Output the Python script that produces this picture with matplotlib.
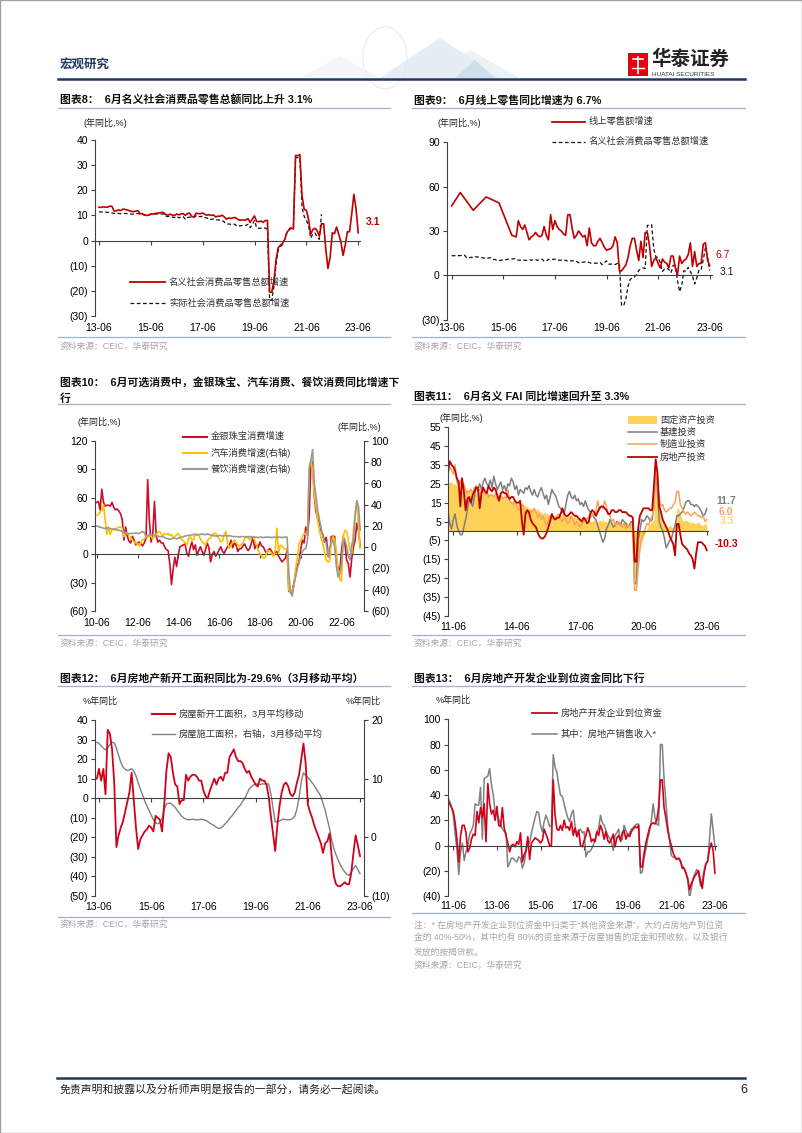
import numpy as np
import matplotlib
matplotlib.use("Agg")
import matplotlib.pyplot as plt
import matplotlib.transforms as mtrans
from matplotlib.lines import Line2D
from matplotlib.patches import Rectangle, Polygon, Circle
from matplotlib.ticker import FuncFormatter

plt.rcParams["font.family"] = ["Liberation Sans", "Noto Sans CJK SC", "DejaVu Sans"]
plt.rcParams["axes.unicode_minus"] = False

# ---------------- data (month index 0 = first x label) ----------------
# chart 8 / 9: retail sales, from 2013-06
retail_nominal = [13.3, 13.2, 13.4, 13.3, 13.3, 13.7, 13.6,
                  11.8, 11.8, 12.2, 11.9, 12.5, 12.4, 12.2, 11.9, 11.6, 11.5, 11.7, 11.9,
                  10.7, 10.7, 10.2, 10.0, 10.1, 10.6, 10.5, 10.8, 10.9, 11.0, 11.2, 11.1,
                  10.2, 10.2, 10.5, 10.1, 10.0, 10.6, 10.2, 10.6, 10.7, 10.0, 10.8, 10.9,
                  9.5, 9.5, 10.9, 10.7, 10.7, 11.0, 10.4, 10.1, 10.3, 10.0, 10.2, 9.4,
                  9.7, 9.7, 10.1, 9.4, 8.5, 9.0, 8.8, 9.0, 9.2, 8.6, 8.1, 8.2,
                  8.2, 8.2, 8.7, 7.2, 8.6, 9.8, 7.6, 7.5, 7.8, 7.2, 8.0, 8.0,
                  -20.5, -20.5, -15.8, -7.5, -2.8, -1.8, -1.1, 0.5, 3.3, 4.3, 5.0, 4.6,
                  33.8, 33.8, 34.2, 17.7, 12.4, 12.1, 8.5, 2.5, 4.4, 4.9, 3.9, 1.7,
                  6.7, 6.7, -3.5, -11.1, -6.7, 3.1, 2.7, 5.4, 2.5, -0.5, -5.9, -1.8,
                  3.5, 3.5, 10.6, 18.4, 12.7, 3.1]
retail_real = [11.4, 11.4, 11.3, 11.3, 11.2, 11.2, 11.0,
               10.8, 10.8, 10.8, 10.7, 10.7, 10.8, 10.7, 10.6, 10.5, 10.5, 10.6, 10.8,
               10.5, 10.5, 10.2, 10.0, 10.1, 10.5, 10.4, 10.5, 10.6, 10.5, 10.6, 10.5,
               9.6, 9.6, 9.8, 9.3, 9.2, 9.7, 9.0, 9.4, 9.5, 8.4, 9.2, 9.3,
               9.2, 9.2, 9.9, 9.6, 9.5, 9.8, 9.2, 8.9, 8.9, 8.4, 8.6, 8.2,
               8.2, 8.2, 8.0, 7.4, 6.6, 6.6, 6.5, 6.7, 6.4, 5.6, 5.8, 6.0,
               6.0, 6.0, 6.5, 5.1, 6.4, 8.0, 5.0, 4.9, 4.9, 5.0, 5.0, 4.5,
               -23.7, -23.7, -18.1, -9.1, -3.7, -2.4, -1.6, 0.5, 3.1, 4.5, 5.5, 5.5,
               33.0, 33.0, 33.0, 13.0, 9.6, 8.1, 6.0, 1.0, 2.6, 3.0, 1.3, 0.5,
               10.5]
online_month = [0, 4, 10, 16, 22] + list(range(28, 121))
online_retail = [47, 56, 44, 53, 49,
                 27, 26.5, 26, 37, 33, 31, 34, 29, 24, 26,
                 27, 29, 27, 26, 27, 33, 27, 24, 41, 31,
                 37, 33, 31, 30, 28, 27, 41, 41, 32, 25,
                 27, 30, 28, 26, 27, 20, 32, 22, 20, 20,
                 23, 25, 22, 19, 17, 17.5, 18, 20, 26, 22,
                 3, 3, 5, 7, 12, 20, 25, 25, 17, 10,
                 23, 12, 29, 29, 20, 6, 10, 12, 8, 5,
                 11, 9, 8, 5, 13, 13, 5, 0, 13, 8,
                 10, 11, 14, 22, 6, 16, 6, 8, 8, 21,
                 22, 10, 6.7]

# chart 10: from 2010-06
jewelry = [55, 56, 47, 69, 55, 51, 52, 52, 51, 55,
           50, 47, 48, 46, 43, 37, 15, 29, 19, 14,
           12, 19, 15, 10, 12, 13, 11, 9, 12, 17,
           79, 35, 13, 22, 56, 19, 13, 15, 12, 12,
           8, 5, 4, -10, -32, -15, -3, -13, 0, 8,
           9, 10, 11, 1, -2, 7, 13, 5, 10, -1,
           4, 8, 3, -1, 5, 12, 7, -8, 0, 3,
           -2, 1, 5, 8, 3, 1, 5, 8, 9, 15,
           7, 12, 10, 3, 6, 6, 9, 11, 7, 4,
           6, 12, 18, 6, 10, 7, 13, 9, 8, 4,
           1, 5, 6, 3, -1, 2, 3, -2, -5, -8,
           -6, -4, 5, -39, -40, -41, -30, -22, -12, -8,
           5, 15, 12, 29, 20, 40, 98, 98, 61, 45,
           38, 33, 25, 21, 13, 18, 3, -4, 19, 19,
           19, -8, -14, -17, 3, 19, 12, -6, -10, -24,
           -5, 8, 15, 33, 25, 8]
auto = [30, 31, 33, 35, 40, 25, 12, 19, 12, 16,
        17, 16, 18, 19, 19, 18, 10, 14, 13, 11,
        9, 7, 5, 4, 3, 1, 5, 7, 8, 10,
        9, 11, 10, 8, 10, 12, 14, 15, 12, 11,
        13, 12, 13, 11, 12, 9, 10, 12, 13, 10,
        7, 6, 4, 2, 8, 10, 7, 7, 13, 12,
        11, 8, 5, 4, 2, 6, 8, 9, 12, 13,
        13, 11, 8, 5, 6, 12, 15, 4, -1, 2,
        5, 7, 5, 2, 1, 3, 4, 8, 10, 9,
        7, 10, 10, 6, 2, -3, -6, -8, -10, -10,
        -5, -3, -4, -6, -9, -3, 18, -6, 2, 1,
        -1, -2, -1, -40, -43, -40, -37, -20, -10, 4,
        6, 10, 13, 12, 16, 76, 81, 73, 50, 38,
        25, 16, 8, 4, -5, -12, -14, -13, 5, 10,
        7, -5, -21, -30, -32, 10, 16, 15, 7, -3,
        -6, 16, 30, 43, 20, -1]
catering = [20, 19.5, 19, 18.5, 18, 17.5, 18.5, 18, 17.5, 17,
            17.5, 17, 16.5, 16, 15.5, 15, 14, 13.5, 13, 13,
            13, 13, 13, 13.5, 13, 13, 14, 14.5, 14, 10,
            11, 12, 11.5, 11, 11.5, 11, 10.5, 10, 10, 10,
            9, 8.5, 8, 7.5, 8, 8.5, 8.5, 8, 8.5, 9,
            9.5, 10, 10.5, 11, 11, 11.5, 11.5, 12, 12, 11.5,
            12, 12, 12.5, 12, 12, 12.5, 12, 11.5, 11, 11,
            10.5, 10.5, 11, 11, 10.5, 11, 11, 10.5, 11, 10.5,
            10, 10, 10, 10, 9.5, 10, 10, 10, 9.5, 10,
            10, 9.5, 9.5, 9.5, 9.5, 9, 9.5, 9.5, 9, 9.5,
            9.5, 9.5, 9.5, 9, 9.5, 9.5, 9, 9.5, 9.5, 9,
            9.5, 9.5, 9.5, -24, -43, -46, -35, -28, -20, -15,
            -8, -4, -2, -1, 7, 73, 82, 92, 60, 48,
            35, 26, 18, 10, 6, 4, -9, 0, 4, 7,
            0, -18, -28, -25, -15, 5, 7, 1, -8, -12,
            2, 7, 30, 44, 38, 16]

# chart 11: from 2011-03 (three months before the 11-06 label)
fai_total = [25, 26, 26, 25, 25, 24, 24, 24, 23, 23,
             22, 22, 22, 21, 21, 21, 20, 21, 21, 21,
             20, 21, 20, 20, 20, 19, 19, 19, 18, 18,
             18, 18, 17, 17, 17, 16, 16, 16, 16, 15,
             15, 15, 15, 14, 13, 13, 12, 12, 11, 12,
             11, 12, 10, 10, 9, 10, 9, 9, 8, 9,
             8, 8, 9, 8, 8, 9, 8, 8, 9, 8,
             8, 7, 8, 7, 7, 6, 7, 6, 6, 5,
             6, 5, 5, 6, 5, 5, 6, 5, 6, 5,
             5, 4, 5, 5, 4, 5, 4, 5, 5, 4,
             4, 5, 4, 4, 5, 4,
             -24.5, -24.5,
             -16, -10, -6, -3, -1, 1, 3, 4, 5, 6,
             35, 25,
             12, 8, 5, 4, 3, 2, 3, 2, 1, 2,
             12, 12,
             9, 6, 5, 6, 5, 5, 4, 5, 4, 4, 5, 4, 3, 3, 4, 3.3]
fai_infra = [10, 4, 1, 6, 9, 3, 0, -2, -2, 2,
             6, 11, 17, 15, 13, 18, 23, 22, 25, 22,
             26, 28, 25, 24, 27, 23, 29, 25, 22, 24,
             26, 22, 24, 21, 25, 24, 28, 26, 22, 24,
             19, 22, 21, 20, 23, 22, 24, 21, 19, 22,
             19, 18, 21, 23, 20, 17, 19, 14, 18, 22,
             20, 19, 16, 13, 12, 10, 9, 14, 19, 21,
             18, 17, 19, 16, 17, 14, 15, 13, 16, 13,
             11, 10, 9, 7, 6, 3, 0, -3, -6, -4,
             1, 3, 6, 4, 2, 3, 5, 4, 3, 6,
             5, 4, 2, 3, 5, 4,
             -28, -28,
             -5, 0, 6, 5, 6, 8, 7, 5, 6, 14,
             34, 22,
             5, 2, 0, -4, -9, -7, -5, -4, 0, 3,
             8, 8,
             9, 10, 12, 15, 16, 16, 14, 14, 13, 14, 13, 12, 10, 8, 9, 11.7]
fai_mfg = [30, 34, 32, 30, 35, 26, 24, 27, 23, 25,
           22, 20, 21, 22, 20, 23, 24, 21, 22, 20,
           21, 19, 21, 18, 19, 19, 18, 20, 17, 18,
           19, 17, 18, 17, 22, 16, 15, 14, 16, 13,
           11, 12, 14, 13, 9, 10, 8, 11, 10, 12,
           10, 7, 9, 6, 8, 5, 3, 5, 8, 7,
           6, 7, 8, 9, 6, 5, 7, 6, 4, 5,
           8, 6, 3, 5, 4, 2, 3, 5, 7, 6,
           8, 7, 9, 8, 10, 16, 11, 13, 12, 16,
           13, 9, 8, 5, 6, 3, 4, 5, 3, 2,
           4, 1, 3, 2, 4, 3,
           -31.5, -31.5,
           -21, -10, -4, -2, 1, 4, 3, 6, 8, 12,
           37, 25,
           17, 13, 14, 11, 10, 11, 12, 12, 14, 15,
           21, 21,
           14, 12, 10, 9, 10, 9, 8, 9, 10, 9, 8, 8, 7, 8, 5, 6]
fai_property = [32, 37, 35, 34, 32, 28, 26, 13, 28, 21,
                11, 17, 18, 15, 19, 21, 23, 23, 12, 20,
                23, 21, 20, 24, 22, 21, 23, 22, 19, 16,
                20, 21, 20, 20, 18, 17, 18, 18, 16, 15,
                15, 16, 5, -2, 9, 11, 10, 6, 4, 3,
                2, -1, -3, -4, -4, -3, -1, 2, 5, 9,
                7, 6, 7, 7, 9, 12, 9, 8, 8, 9,
                10, 9, 8, 8, 7, 6, 5, 7, 6, 4,
                5, 10, 11, 10, 8, 10, 12, 13, 13, 12,
                11, 9, 9, 11, 11, 10, 10, 11, 11, 10,
                10, 10, 9, 8, 8, 7,
                -16.3, -16.3,
                1, 8, 10, 12, 12, 12, 12, 11, 11, 24,
                38, 31,
                13, 10, 6, 4, 2, 0, -3, -5, -7, -13,
                3.7, 3.7,
                -2, -7, -8, -9, -10, -12, -13, -15, -20, -12, -6, -6, -6, -7, -8, -10.3]

# chart 12: from 2013-05 (3-month moving averages)
new_starts = [10, 15, 9, 15, 2, 35, 33, 25, 8, -25,
              -19, -15, -12, -7, -2, 3, 13, -1, -15, -26,
              -21, -19, -17, -16, -14, -15, -17, -9, -10, -11,
              -17, -3, 14, 23, 21, 13, 7, 6, -3, -1,
              -1, 12, 9, 11, 12, 12, 11, 9, 9, 4,
              1, 0, 4, 7, 10, 7, 10, 11, 9, 13,
              13, 21, 23, 25, 21, 19, 19, 18, 15, 13,
              14, 11, 9, 7, 6, 10, 9, 9, 7, 1,
              -9, -18, -27, -14, -4, 3, 7, 8, 6, 2,
              1, 3, 8, 12, 20, 28, 18, -3, -7, -10,
              -14, -17, -20, -23, -28, -23, -22, -18, -30, -40,
              -44, -45, -45, -44, -43, -44, -44, -38, -28, -19,
              -24, -29.6]
under_construction = [16.2, 16, 15.6, 15.2, 14.9, 15.3, 15.8, 16.2, 16.1, 15.2,
                      14, 12.8, 12, 11.6, 11.4, 11.5, 11.7, 11.3, 10.5, 9.3,
                      8.2, 7.3, 6.2, 5.4, 4.6, 3.8, 3.0, 2.5, 2.3, 2.5,
                      3.2, 4.8, 5.7, 5.8, 5.8, 5.5, 5.1, 4.6, 4.1, 3.6,
                      3.3, 3.1, 3.0, 3.0, 3.1, 3.0, 3.0, 3.0, 3.1, 3.0,
                      2.9, 2.7, 2.4, 2.2, 2.0, 1.7, 1.5, 1.6, 1.9, 2.3,
                      2.7, 3.2, 3.6, 4.1, 4.6, 5.1, 5.5, 6.1, 6.6, 7.4,
                      8.2, 8.6, 8.9, 9.1, 9.1, 9.0, 9.1, 9.1, 9.1, 9.1,
                      7.5, 5.0, 2.6, 2.7, 2.8, 3.0, 3.1, 3.0, 3.0, 3.0,
                      3.2, 3.6, 4.8, 6.8, 9.5, 11.0, 10.6, 10.2, 9.8, 9.3,
                      8.8, 8.2, 7.6, 7.0, 5.8, 4.6, 3.0, 1.5, -0.5, -1.9,
                      -3.0, -3.9, -4.7, -5.4, -5.9, -6.3, -6.5, -5.9, -5.3, -4.8,
                      -5.5, -6.2]

# chart 13: from 2011-03
dev_funds = [36, 33, 30, 27, 18, 5, -13, 8, 16, 16,
             10, -5, -2, 5, 9, 8, 27, 18, 30, 22,
             33, 3, 49, 33, 25, 28, 20, 31, 16, 15,
             30, 14, 8, 2, -5, 0, 1, -1, 3, 1,
             10, -13, -7, -4, 7, -11, 2, 4, 6, 5,
             4, 2, 4, 13, 9, 5, 0, 0, 52, 24,
             13, 12, 16, 12, 20, 14, 15, 12, 19, 8,
             14, 7, 12, 0, -1, 4, 8, 14, 10, 3,
             5, 3, 11, 8, 16, 12, 5, 11, 4, 2,
             5, 9, -1, 6, 8, 4, 10, 12, 5, 9,
             7, 11, 13, 15, 14, 16, -17, -17, -6, 2,
             8, 14, 17, 18, 17, 20, 30, 52, 52, 30,
             22, 12, 5, 0, -6, -9, -11, -10, -12, -18,
             -18, -22, -26, -35, -30, -27, -24, -22, -20, -28,
             -34, -22, -15, -12, -3, 2, -4, -22]
sales_proceeds = [38, 35, 31, 24, 9, -3, -23, -5, 2, -12,
                  -5, 0, 9, 12, 16, 33, 32, 32, 46, 5,
                  53, 54, 55, 61, 48, 40, 27, 24, 21, 17,
                  13, 11, 10, -17, -14, -10, -10, -12, -13, -9,
                  -10, -18, -14, -5, 3, 2, 10, 16, 22, 27,
                  26, 16, 11, 19, 24, 20, 15, 16, 72, 62,
                  58, 48, 40, 39, 33, 27, 22, 19, 25, 28,
                  15, 8, 12, 13, 10, 11, -9, -5, -5, -3,
                  0, 5, 10, 14, 24, 18, 16, 12, 8, 6,
                  3, -4, 8, 10, 13, 3, 5, 16, 12, 8,
                  10, 13, 14, 16, 17, 17, -22, -21, -10, -3,
                  5, 11, 20, 33, 22, 17, 16, 80, 80, 53,
                  35, 16, 5, -8, -9, -10, -11, -10, -13, -16,
                  -18, -21, -27, -42, -34, -26, -22, -19, -22, -32,
                  -28, -20, -14, -13, 5, 25, 12, -1]

labels_13_23 = ["13-06", "15-06", "17-06", "19-06", "21-06", "23-06"]
labels_10_22 = ["10-06", "12-06", "14-06", "16-06", "18-06", "20-06", "22-06"]
labels_11_23_3y = ["11-06", "14-06", "17-06", "20-06", "23-06"]
labels_11_23_2y = ["11-06", "13-06", "15-06", "17-06", "19-06", "21-06", "23-06"]

# ---------------- page ----------------
W, H = 802, 1133
fig = plt.figure(figsize=(W / 100, H / 100), dpi=100)
fig.patch.set_facecolor("white")

RED = "#C00000"
AX = "#404040"
NAVY = "#1F3864"
SEP = "#9DB3CB"
SRC = "#A6A6A6"


def fx(x):
    return x / W


def fy(y):
    return 1 - y / H


def ftext(x, y, s, **kw):
    kw.setdefault("va", "center")
    return fig.text(fx(x), fy(y), s, **kw)


def fline(x1, x2, y1, y2=None, **kw):
    if y2 is None:
        y2 = y1
    fig.add_artist(Line2D([fx(x1), fx(x2)], [fy(y1), fy(y2)], transform=fig.transFigure, **kw))


def paren(v, pos=None):
    return f"({abs(v):.0f})" if v < 0 else f"{v:.0f}"


def make_axes(l, t, r, b, m0px, pxm, ylim, yticks, xticks, xlabels, label_y):
    ax = fig.add_axes([fx(l), fy(b), (r - l) / W, (b - t) / H])
    ax.set_xlim((l - m0px) / pxm, (r - m0px) / pxm)
    ax.set_ylim(ylim)
    ax.set_yticks(yticks)
    ax.yaxis.set_major_formatter(FuncFormatter(paren))
    ax.spines["top"].set_visible(False)
    ax.spines["right"].set_visible(False)
    ax.spines["bottom"].set_position(("data", 0))
    for s in ("left", "bottom"):
        ax.spines[s].set_color(AX)
        ax.spines[s].set_linewidth(0.8)
    ax.set_xticks(xticks)
    ax.set_xticklabels([])
    ax.tick_params(axis="x", direction="out", length=3, color=AX, width=0.8)
    ax.tick_params(axis="y", direction="out", length=3, labelsize=7.5, pad=2, color=AX, width=0.8)
    ax.patch.set_alpha(0)
    tr = mtrans.blended_transform_factory(ax.transData, fig.transFigure)
    for x, lab in zip(xticks, xlabels):
        ax.text(x, fy(label_y), lab, transform=tr, ha="center", va="center", fontsize=7.5, clip_on=False)
    return ax


def make_right(ax, ylim, yticks):
    ax2 = ax.twinx()
    ax2.set_ylim(ylim)
    ax2.set_yticks(yticks)
    ax2.yaxis.set_major_formatter(FuncFormatter(paren))
    for s in ("left", "top", "bottom"):
        ax2.spines[s].set_visible(False)
    ax2.spines["right"].set_color(AX)
    ax2.spines["right"].set_linewidth(0.8)
    ax2.tick_params(axis="y", direction="out", length=3, labelsize=7.5, pad=2, color=AX, width=0.8)
    ax2.patch.set_alpha(0)
    return ax2


def months(vals, start):
    return np.arange(len(vals)) + start


def section(x1, x2, title_lines, title_y, top_line, bottom_line, src_y):
    for i, s in enumerate(title_lines):
        ftext(x1 + 2, title_y + i * 16.5, s, fontsize=7.8, fontweight="bold", color="#111111")
    fline(x1, x2, top_line, color=SEP, lw=0.9)
    fline(x1, x2, bottom_line, color=SEP, lw=0.9)
    ftext(x1 + 2, src_y, "资料来源：CEIC，华泰研究", fontsize=6.3, color=SRC)


def legend_line(x1, x2, y, text, color, lw=1.3, ls="-", fs=6.7, gap=4):
    fline(x1, x2, y, color=color, lw=lw, linestyle=ls)
    ftext(x2 + gap, y, text, fontsize=fs, color="#333333")


# header
fig.add_artist(Rectangle((0, 0), 1, 1, transform=fig.transFigure, fill=False, edgecolor="#A0A0A0", lw=1.0))
fig.add_artist(Circle((fx(385), fy(58)), 22 / W, transform=fig.transFigure, fill=False,
                      edgecolor="#E3E9F0", lw=0.7))
for pts, col in [([(300, 78), (340, 56), (380, 78)], "#EEF2F7"),
                 ([(380, 78), (440, 38), (500, 78)], "#DCE6F0"),
                 ([(430, 78), (470, 50), (520, 78)], "#E6EDF4"),
                 ([(455, 78), (475, 60), (495, 78)], "#C8D9EA")]:
    fig.add_artist(Polygon([(fx(a), fy(b)) for a, b in pts], closed=True, transform=fig.transFigure,
                           facecolor=col, edgecolor="none", alpha=0.7))
ftext(60, 65, "宏观研究", fontsize=9, fontweight="bold", color=NAVY)
fig.add_artist(Rectangle((fx(628), fy(76)), 20 / W, 23 / H, transform=fig.transFigure,
                         facecolor="#E60012", edgecolor="none"))
fline(633, 643, 59, color="white", lw=1.2)
fline(638, 638, 57, 73, color="white", lw=1.2)
fline(632, 644, 68, color="white", lw=1.0)
ftext(651, 59, "华泰证券", fontsize=14, fontweight="bold", color="#222222")
ftext(652, 74, "HUATAI SECURITIES", fontsize=4.6, color="#333333")
fline(58, 745, 78.5, color=NAVY, lw=1.8)

# footer
fline(57, 745, 1077.5, color=NAVY, lw=1.8)
ftext(60, 1090, "免责声明和披露以及分析师声明是报告的一部分，请务必一起阅读。", fontsize=7.8, color="#222222")
ftext(740, 1090, "6", fontsize=9, color="#222222")

# ---------------- chart 8 ----------------
section(58, 390, ["图表8：  6月名义社会消费品零售总额同比上升 3.1%"], 100, 108.3, 337, 346)
ax = make_axes(95, 140, 360, 316, 99, 2.16, (-30, 40), range(-30, 41, 10),
               range(0, 121, 24), labels_13_23, 328)
ax.plot(months(retail_real, 0), retail_real, color="#111111", lw=0.9, ls=(0, (3, 2)))
ax.plot(months(retail_nominal, 0), retail_nominal, color=RED, lw=1.2)
ftext(84, 122.7, "(年同比,%)", fontsize=6.5, color="#222222")
ftext(366, 221.7, "3.1", fontsize=7.5, fontweight="bold", color=RED)
legend_line(130, 165, 282.3, "名义社会消费品零售总额增速", RED)
legend_line(130, 165, 303.3, "实际社会消费品零售总额增速", "#111111", lw=0.9, ls=(0, (3, 2)))

# ---------------- chart 9 ----------------
section(412, 745, ["图表9：  6月线上零售同比增速为 6.7%"], 100, 108.3, 337, 346)
ax = make_axes(446.7, 142.3, 712, 319.6, 451.7, 2.15, (-30, 90), [-30, 0, 30, 60, 90],
               range(0, 121, 24), labels_13_23, 328)
ax.plot(months(retail_nominal, 0), retail_nominal, color="#111111", lw=0.9, ls=(0, (3, 2)))
ax.plot(online_month, online_retail, color=RED, lw=1.2)
ftext(438, 123.3, "(年同比,%)", fontsize=6.5, color="#222222")
ftext(716, 255, "6.7", fontsize=7.5, color=RED)
ftext(720, 272, "3.1", fontsize=7.5, color="#222222")
legend_line(552, 585, 121.7, "线上零售额增速", RED)
legend_line(552, 585, 141.7, "名义社会消费品零售总额增速", "#111111", lw=0.9, ls=(0, (3, 2)))

# ---------------- chart 10 ----------------
section(58, 390, ["图表10：  6月可选消费中，金银珠宝、汽车消费、餐饮消费同比增速下", "行"],
        381.7, 404, 635, 643.3)
ax = make_axes(95, 441, 364, 611, 96.7, 1.70, (-60, 120), range(-60, 121, 30),
               range(0, 145, 24), labels_10_22, 622.7)
ax.plot(months(jewelry, 0), jewelry, color="#C8102E", lw=1.2)
ax2 = make_right(ax, (-60, 100), range(-60, 101, 20))
ax2.plot(months(auto, 0), auto, color="#FFC000", lw=1.2)
ax2.plot(months(catering, 0), catering, color="#999999", lw=1.2)
ftext(78, 421.7, "(年同比,%)", fontsize=6.5, color="#222222")
ftext(337, 426.7, "(年同比,%)", fontsize=6.5, color="#222222")
legend_line(183, 207, 436.7, "金银珠宝消费增速", "#C8102E", lw=1.5)
legend_line(183, 207, 453.3, "汽车消费增速(右轴)", "#FFC000", lw=1.5)
legend_line(183, 207, 469.3, "餐饮消费增速(右轴)", "#999999", lw=1.5)

# ---------------- chart 11 ----------------
section(412, 745, ["图表11：  6月名义 FAI 同比增速回升至 3.3%"], 396.7, 404, 635, 643.3)
ax = make_axes(448.3, 427.3, 708, 615.7, 453.3, 1.76, (-45, 55), range(-45, 56, 10),
               range(0, 145, 36), labels_11_23_3y, 626.7)
xm = months(fai_total, -3)
ax.fill_between(xm, 0, fai_total, color="#FFD257", lw=0)
ax.plot(months(fai_infra, -3), fai_infra, color="#7F7F7F", lw=1.1)
ax.plot(months(fai_mfg, -3), fai_mfg, color="#F4A460", lw=1.1)
ax.plot(months(fai_property, -3), fai_property, color="#C00000", lw=1.3)
ftext(440, 417.7, "(年同比,%)", fontsize=6.5, color="#222222")
ftext(726.7, 501, "11.7", fontsize=7.5, fontweight="bold", color="#7F7F7F", ha="center")
ftext(726, 511.7, "6.0", fontsize=7.5, fontweight="bold", color="#F4A460", ha="center")
ftext(726.7, 521, "3.3", fontsize=7.5, fontweight="bold", color="#FFD966", ha="center")
ftext(726.7, 544, "-10.3", fontsize=7.5, fontweight="bold", color=RED, ha="center")
fig.add_artist(Rectangle((fx(628), fy(424)), 29 / W, 8 / H, transform=fig.transFigure,
                         facecolor="#FFD257", edgecolor="none"))
ftext(660, 420, "固定资产投资", fontsize=6.6, color="#333333")
legend_line(628, 657, 432.3, "基建投资", "#7F7F7F", lw=1.1, gap=3)
legend_line(628, 657, 444, "制造业投资", "#F4A460", lw=1.1, gap=3)
legend_line(628, 657, 457.3, "房地产投资", "#C00000", lw=1.3, gap=3)

# ---------------- chart 12 ----------------
section(58, 390, ["图表12：  6月房地产新开工面积同比为-29.6%（3月移动平均）"], 678.3, 686, 916.7, 924)
ax = make_axes(95, 720, 364, 896, 99, 2.175, (-50, 40), range(-50, 41, 10),
               range(0, 121, 24), labels_13_23, 906.7)
ax2 = make_right(ax, (-10, 20), range(-10, 21, 10))
ax2.plot(months(under_construction, -1), under_construction, color="#808080", lw=1.0)
ax.set_zorder(ax2.get_zorder() + 1)
ax.plot(months(new_starts, -1), new_starts, color="#D0021B", lw=1.3)
ftext(83, 701, "%年同比", fontsize=6.5, color="#222222")
ftext(346, 701, "%年同比", fontsize=6.5, color="#222222")
legend_line(152, 175, 714, "房屋新开工面积，3月平均移动", "#D0021B", lw=1.5)
legend_line(152, 175, 734, "房屋施工面积，右轴，3月移动平均", "#808080", lw=1.0)

# ---------------- chart 13 ----------------
section(412, 745, ["图表13：  6月房地产开发企业到位资金同比下行"], 678.3, 686, 913.3, 965)
ax = make_axes(447.7, 719.3, 716, 896, 453.3, 1.817, (-40, 100), range(-40, 101, 20),
               range(0, 145, 24), labels_11_23_2y, 905.7)
ax.plot(months(sales_proceeds, -3), sales_proceeds, color="#808080", lw=1.1)
ax.plot(months(dev_funds, -3), dev_funds, color="#D0021B", lw=1.2)
ftext(436, 700, "%年同比", fontsize=6.5, color="#222222")
legend_line(532, 557, 712.7, "房地产开发企业到位资金", "#D0021B", lw=1.3)
legend_line(532, 557, 734, "其中：房地产销售收入*", "#808080", lw=1.1)
notes = ["注：* 在房地产开发企业到位资金中归类于“其他资金来源”，大约占房地产到位资",
         "金的 40%-50%，其中约有 80%的资金来源于房屋销售的定金和预收款，以及银行",
         "发放的按揭贷款。"]
for i, s in enumerate(notes):
    ftext(414, 925 + i * 13.5, s, fontsize=6.3, color=SRC)

fig.savefig("out.png", dpi=100, facecolor="white")
